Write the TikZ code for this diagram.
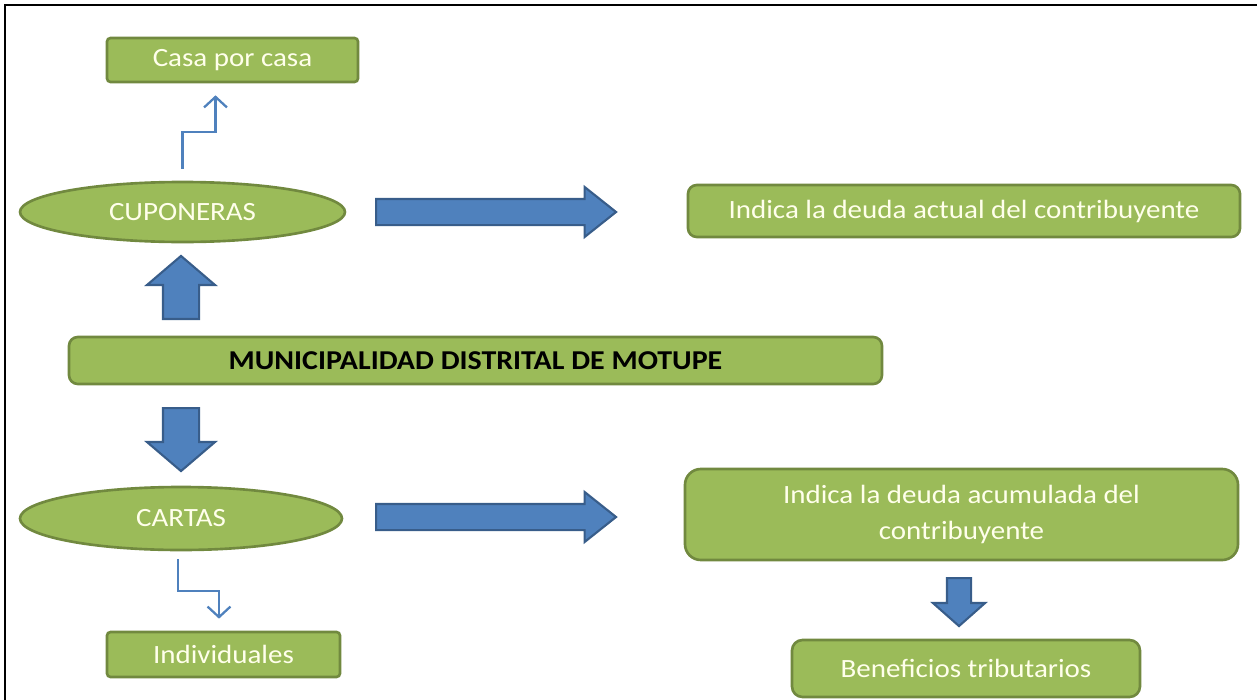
\documentclass[tikz,border=0pt]{standalone}
\usepackage{fontspec}
\setmainfont{Carlito}[FakeStretch=1.1]
\usetikzlibrary{shapes.geometric,shapes.arrows,arrows.meta}
\definecolor{officegreen}{RGB}{155,187,89}
\definecolor{greenline}{RGB}{113,137,63}
\definecolor{officeblue}{RGB}{79,129,189}
\definecolor{blueline}{RGB}{56,93,138}
\definecolor{creamtext}{RGB}{255,255,235}
\tikzset{
  greenbox/.style={rectangle, draw=greenline, fill=officegreen, line width=1.5pt, text=creamtext, font=\fontsize{15}{21}\selectfont, align=center, inner sep=0pt},
  greenoval/.style={ellipse, draw=greenline, fill=officegreen, line width=1.5pt, text=creamtext, font=\fontsize{15}{21}\selectfont, inner sep=0pt},
  blockarrow/.style={single arrow, draw=blueline, fill=officeblue, line width=1.2pt, minimum width=0pt, anchor=tail},
  thinarrow/.style={draw=officeblue, line width=1.3pt, -{Straight Barb[length=6pt,width=13pt]}}
}
\begin{document}
\begin{tikzpicture}
\useasboundingbox (0,0) rectangle (25.14,-14);
\draw[line width=1.1pt] (0.1,-14) -- (0.1,-0.1) -- (25.14,-0.1);
% boxes
\node[greenbox, minimum width=5.02cm, minimum height=0.88cm, rounded corners=2pt] (casa) at (4.65,-1.2) {Casa por casa};
\node[greenoval, minimum width=6.5cm, minimum height=1.2cm] (cup) at (3.65,-4.24) {CUPONERAS};
\node[greenbox, minimum width=11.04cm, minimum height=1.04cm, rounded corners=5pt] (actual) at (19.28,-4.22) {Indica la deuda actual del contribuyente};
\node[greenbox, minimum width=16.26cm, minimum height=0.94cm, rounded corners=5pt, text=black, font=\fontsize{15.5}{18}\selectfont\bfseries] (muni) at (9.51,-7.21) {MUNICIPALIDAD DISTRITAL DE MOTUPE};
\node[greenoval, minimum width=6.44cm, minimum height=1.26cm] (cart) at (3.62,-10.37) {CARTAS};
\node[greenbox, minimum width=11.06cm, minimum height=1.82cm, rounded corners=9pt] (acum) at (19.23,-10.29) {Indica la deuda acumulada del\\contribuyente};
\node[greenbox, minimum width=6.96cm, minimum height=1.14cm, rounded corners=6pt] (benef) at (19.32,-13.37) {Beneficios tributarios};
\node[greenbox, minimum width=4.66cm, minimum height=0.9cm, rounded corners=2pt] (indiv) at (4.47,-13.09) {Individuales};
% block arrows
\node[blockarrow, inner sep=0.24cm, minimum height=4.8cm, single arrow head extend=0.24cm, single arrow tip angle=77] (cupact) at (7.5,-4.24) {};
\node[blockarrow, inner sep=0.24cm, minimum height=4.8cm, single arrow head extend=0.24cm, single arrow tip angle=77] (cartacum) at (7.5,-10.34) {};
\node[blockarrow, inner sep=0.34cm, shape border rotate=90, minimum height=1.26cm, single arrow head extend=0.32cm, single arrow tip angle=99] (muniup) at (3.62,-6.4) {};
\node[blockarrow, inner sep=0.34cm, shape border rotate=270, minimum height=1.26cm, single arrow head extend=0.32cm, single arrow tip angle=99] (munidown) at (3.62,-8.14) {};
\node[blockarrow, inner sep=0.22cm, shape border rotate=270, minimum height=0.96cm, single arrow head extend=0.28cm, single arrow tip angle=97] (acumdown) at (19.18,-11.54) {};
% thin connectors
\draw[thinarrow] ([yshift=0.24cm]cup.north) -- ++(0,0.74) -| ([xshift=-0.34cm,yshift=-0.24cm]casa.south);
\draw[thinarrow] ([xshift=-0.06cm,yshift=-0.16cm]cart.south) -- ++(0,-0.64) -| ([xshift=-0.09cm,yshift=0.24cm]indiv.north);
\end{tikzpicture}
\end{document}
